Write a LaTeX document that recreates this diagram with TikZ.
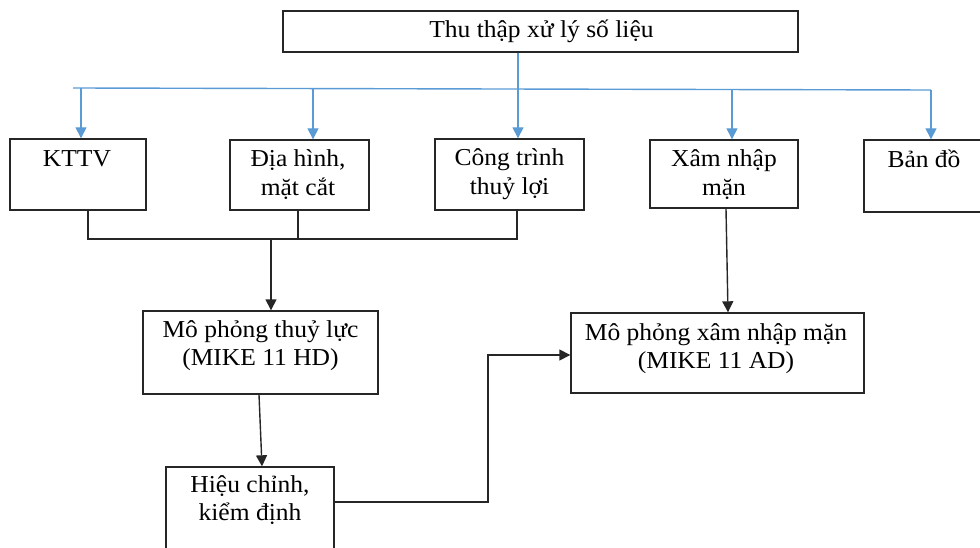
\documentclass[tikz,border=0pt]{standalone}
\usepackage{fontspec}
\setmainfont{Liberation Serif}[FakeStretch=1.05]
\usetikzlibrary{arrows.meta}
\definecolor{linkblue}{RGB}{91,155,213}
\newcommand{\txtlines}[1]{\begin{tabular}[t]{@{}c@{}}#1\end{tabular}}
\tikzset{
  box/.style={draw=black!85, line width=1.4pt, rectangle, inner sep=0pt},
  lbl/.style={anchor=base, inner sep=0pt, font=\fontsize{24.3}{28.5}\selectfont},
  blueline/.style={draw=linkblue, line width=1.4pt},
  bluearrow/.style={blueline, -{Triangle[width=11pt,length=11pt]}},
  blackline/.style={draw=black!85, line width=1.4pt},
  blackarrow/.style={blackline, -{Triangle[width=11pt,length=11pt]}}
}
\begin{document}
\begin{tikzpicture}[x=1pt,y=-1pt]
\useasboundingbox (0,0) rectangle (980,548);
% boxes
\node[box, minimum width=515pt, minimum height=41pt] (top) at (540.5,31.5) {};
\node[box, minimum width=136pt, minimum height=71pt] (kttv) at (78,174.5) {};
\node[box, minimum width=139pt, minimum height=70pt] (dia) at (299.5,175) {};
\node[box, minimum width=149pt, minimum height=71pt] (cong) at (509.5,174.5) {};
\node[box, minimum width=148pt, minimum height=68pt] (xam) at (724,174) {};
\node[box, minimum width=122pt, minimum height=72pt] (ban) at (925,176) {};
\node[box, minimum width=235pt, minimum height=83pt] (mp1) at (260.5,352.5) {};
\node[box, minimum width=293pt, minimum height=80pt] (mp2) at (717.5,353) {};
\node[box, minimum width=168pt, minimum height=103pt] (hc) at (250,518.5) {};
% labels
\node[lbl] (ttop) at (541.5,37.5) {Thu thập xử lý số liệu};
\node[lbl] (tkttv) at (77,167) {KTTV};
\node[lbl] (tdia) at (298,167) {\txtlines{Địa hình,\\mặt cắt}};
\node[lbl] (tcong) at (509.5,166) {\txtlines{Công trình\\thuỷ lợi}};
\node[lbl] (txam) at (724,167) {\txtlines{Xâm nhập\\mặn}};
\node[lbl] (tban) at (924,168) {Bản đồ};
\node[lbl] (tmp1) at (260.5,337) {\txtlines{Mô phỏng thuỷ lực\\(MIKE 11 HD)}};
\node[lbl] (tmp2) at (716,340) {\txtlines{Mô phỏng xâm nhập mặn\\(MIKE 11 AD)}};
\node[lbl] (thc) at (250,492) {\txtlines{Hiệu chỉnh,\\kiểm định}};
% blue distribution
\coordinate (bl) at (73,88);
\coordinate (br) at (931,90);
\coordinate (b1) at (81,88);
\coordinate (b2) at (313,88.5);
\coordinate (b4) at (732,89.5);
\coordinate (b5) at (931,90);
\draw[blueline] (bl) -- (br);
\draw[bluearrow] (b1) -- (b1 |- kttv.north);
\draw[bluearrow] (b2) -- (b2 |- dia.north);
\draw[bluearrow] (b4) -- (b4 |- xam.north);
\draw[bluearrow] (b5) -- (b5 |- ban.north);
\coordinate (b3) at (518,52);
\draw[bluearrow] (b3 |- top.south) -- (b3 |- cong.north);
% black merge
\coordinate (m1) at (88,239);
\coordinate (m2) at (298,239);
\coordinate (m3) at (517,239);
\coordinate (mm) at (271,239);
\draw[blackline] (m1 |- kttv.south) -- (m1) -- (m3) -- (m3 |- cong.south);
\draw[blackline] (m2 |- dia.south) -- (m2);
\draw[blackarrow] (mm) -- (mm |- mp1.north);
% mp1 -> hc
\coordinate (d1) at (259,394);
\coordinate (d2) at (262,467);
\draw[blackarrow] (d1 |- mp1.south) -- (d2 |- hc.north);
% hc -> mp2
\coordinate (h1) at (334,502);
\coordinate (h2) at (488,502);
\coordinate (h3) at (488,355);
\draw[blackarrow] (h1 -| hc.east) -- (h2) -- (h3) -- (h3 -| mp2.west);
% xam -> mp2
\coordinate (x1) at (726,208);
\coordinate (x2) at (728,313);
\draw[blackarrow] (x1 |- xam.south) -- (x2 |- mp2.north);
\end{tikzpicture}
\end{document}
